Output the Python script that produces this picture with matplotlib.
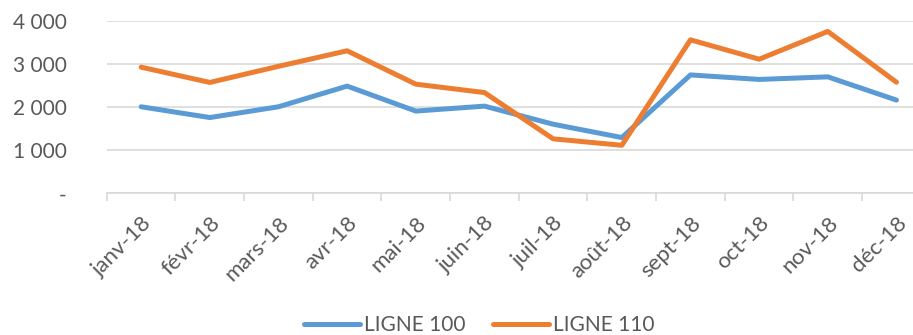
import matplotlib
matplotlib.use("Agg")
import matplotlib.pyplot as plt
from matplotlib.ticker import FuncFormatter, FixedLocator

plt.rcParams['font.family'] = ['Lato', 'DejaVu Sans']

# Monthly values per line
months = ["janv-18", "févr-18", "mars-18", "avr-18", "mai-18", "juin-18",
          "juil-18", "août-18", "sept-18", "oct-18", "nov-18", "déc-18"]
ligne_100 = [2010, 1760, 2010, 2490, 1910, 2025, 1605, 1295, 2750, 2645, 2705, 2165]
ligne_110 = [2930, 2575, 2950, 3310, 2535, 2340, 1265, 1115, 3565, 3115, 3760, 2580]
y_ticks = [0, 1000, 2000, 3000, 4000]

BLUE = "#5B9BD5"
ORANGE = "#ED7D31"
GRID = "#D9D9D9"
TEXT = "#595959"

fig = plt.figure(figsize=(9.13, 3.35), dpi=100)
ax = fig.add_axes([0.117, 0.423, 0.9025, 0.514])

x = range(len(months))
ax.plot(x, ligne_100, color=BLUE, lw=3.6, label="LIGNE 100", solid_capstyle="round")
ax.plot(x, ligne_110, color=ORANGE, lw=3.6, label="LIGNE 110", solid_capstyle="round")

ax.set_xlim(-0.5, len(months) - 0.5)
ax.set_ylim(0, 4000)

def fmt(v, pos):
    if v == 0:
        return "-"
    return f"{int(v):,}".replace(",", " ")

ax.yaxis.set_major_locator(FixedLocator(y_ticks))
ax.yaxis.set_major_formatter(FuncFormatter(fmt))
ax.grid(axis="y", color=GRID, lw=1.2)
ax.set_axisbelow(True)

for s in ["top", "right", "left"]:
    ax.spines[s].set_visible(False)
ax.spines["bottom"].set_color(GRID)
ax.spines["bottom"].set_linewidth(1.2)

ax.tick_params(axis="y", length=0, pad=29, labelsize=15, labelcolor=TEXT)
for lbl in ax.get_yticklabels():
    lbl.set_horizontalalignment("right")

ax.set_xticks(list(x))
ax.set_xticklabels(months, rotation=45, ha="right", rotation_mode="anchor")
ax.tick_params(axis="x", which="major", length=0, pad=14, labelsize=16, labelcolor=TEXT)
ax.set_xticks([i - 0.5 for i in range(len(months) + 1)], minor=True)
ax.tick_params(axis="x", which="minor", length=6, width=1.2, color=GRID)

fig.legend(loc="center", bbox_to_anchor=(0.525, 0.03), ncol=2, frameon=False,
           fontsize=15, labelcolor=TEXT, handlelength=2.65, handletextpad=0.2,
           columnspacing=1.35)

fig.savefig("out.png", dpi=100)
